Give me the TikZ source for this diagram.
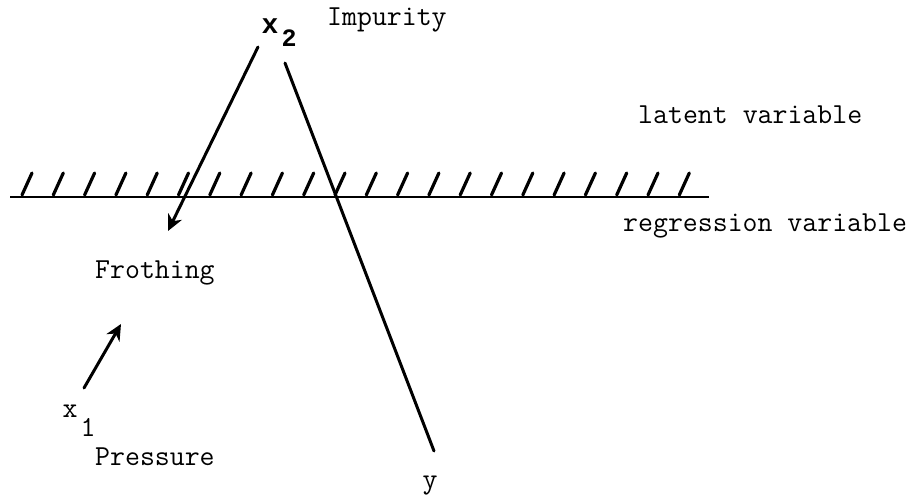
\documentclass[tikz,border=0pt]{standalone}
\usepackage{fontspec}
\newfontfamily\heavymono{Liberation Mono}
\usetikzlibrary{arrows.meta}
\begin{document}
\begin{tikzpicture}[x=1pt,y=-1pt,
  lbl/.style={font=\ttfamily\fontsize{29}{32}\selectfont, inner sep=0pt, anchor=west},
  ln/.style={line width=3pt, line cap=round},
  hatch/.style={line width=3.2pt, line cap=round},
  arr/.style={ln, -{Stealth[length=16pt,width=15pt,inset=5pt]}}]
\useasboundingbox (0,0) rectangle (919,501);
% labels
\node[lbl] (imp) at (327,20) {Impurity};
\node[lbl] (lat) at (638,115) {latent variable};
\node[lbl] (reg) at (623,226) {regression variable};
\node[lbl] (fro) at (95,273) {Frothing};
\node[lbl] (pre) at (95,457) {Pressure};
\node[lbl, anchor=center] (y) at (430,486) {y};
\node[lbl, anchor=center, font=\heavymono\bfseries\fontsize{28}{28}\selectfont] (x2) at (270,26) {x};
\node[lbl, anchor=center, font=\heavymono\bfseries\fontsize{25}{25}\selectfont] (x2s) at (289,38) {2};
\node[lbl, anchor=center] (x1) at (70,411) {x};
\node[lbl, anchor=center] (x1s) at (88,427) {1};
% baseline
\coordinate (bl) at (10,197);
\coordinate (br) at (709,197);
\draw[line width=2.6pt] (bl) -- (br);
\foreach \i in {0,...,21} {
  \draw[hatch] ({22+\i*31.3},195) -- ++(10,-22);
}
% lines
\coordinate (a1) at (258,47);
\coordinate (a2) at (168,231);
\draw[arr] (a1) -- (a2);
\coordinate (b1) at (285,63);
\coordinate (b2) at (434,451);
\draw[ln] (b1) -- (b2);
\coordinate (c1) at (84,388);
\coordinate (c2) at (121,324);
\draw[arr] (c1) -- (c2);
\end{tikzpicture}
\end{document}
